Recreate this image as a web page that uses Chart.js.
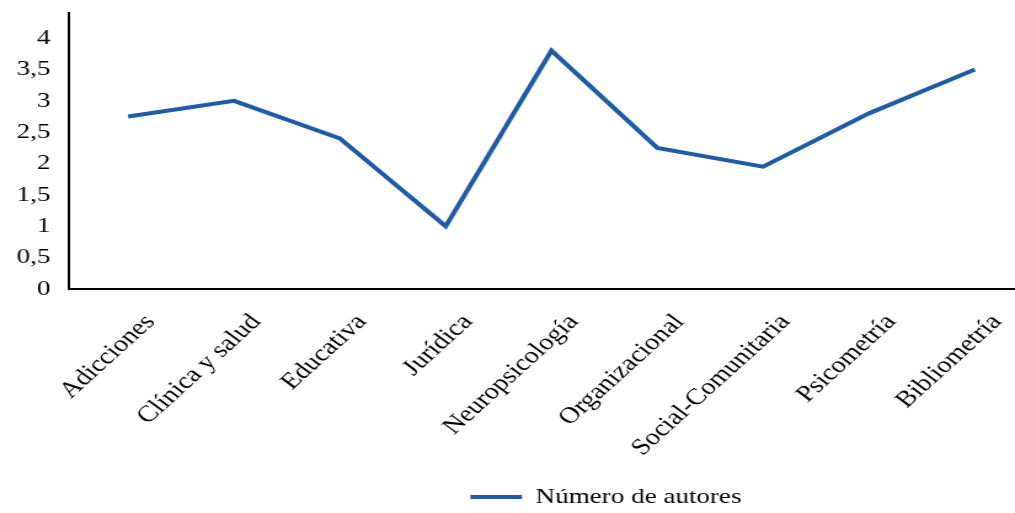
<!DOCTYPE html>
<html>
<head>
<meta charset="utf-8">
<script src="https://cdn.jsdelivr.net/npm/chart.js@4"></script>
<style>
  html, body { margin: 0; padding: 0; background: #fff; overflow: hidden; }
  /* la figura original esta estirada en horizontal */
  #grafico { transform: scaleX(1.2303); transform-origin: 0 0; display: block; }
</style>
</head>
<body>
<canvas id="grafico" width="825" height="513"></canvas>
<script>
const categorias = ['Adicciones', 'Clínica y salud', 'Educativa', 'Jurídica', 'Neuropsicología',
                    'Organizacional', 'Social-Comunitaria', 'Psicometría', 'Bibliometría'];
const autores = [2.75, 3, 2.4, 1, 3.8, 2.25, 1.95, 2.8, 3.5];
const ejeY = [0, 0.5, 1, 1.5, 2, 2.5, 3, 3.5, 4];

const fuente = { family: "'Liberation Serif', 'Times New Roman', serif", size: 22 };

// puntos: posicion de la categoria + valor
const puntos = autores.map((v, i) => ({ x: i, y: v }));

// mueve la leyenda como en la figura
const moverLeyenda = {
    id: 'moverLeyenda',
    afterLayout(chart) {
        const l = chart.legend;
        l.left += 80;
        l.right += 80;
        l.top += 5;
        l.bottom += 5;
    }
};

const config = {
    type: 'line',
    data: {
        datasets: [{
            label: 'Número de autores',
            data: puntos,
            borderColor: '#1F5BA6',
            backgroundColor: '#1F5BA6',
            borderWidth: 4,
            pointRadius: 0,
            tension: 0,
            fill: false
        }]
    },
    options: {
        responsive: false,
        animation: false,
        layout: { padding: { left: 0, right: 0, top: 13, bottom: 0 } },
        scales: {
            x: {
                type: 'linear',
                min: -0.56,
                max: 8.38,
                grid: { display: false, drawTicks: false },
                border: { display: true, color: '#000', width: 2 },
                afterBuildTicks(scale) {
                    scale.ticks = categorias.map((c, i) => ({ value: i }));
                },
                ticks: {
                    color: '#000',
                    font: { family: fuente.family, size: 23 },
                    maxRotation: 48,
                    minRotation: 48,
                    autoSkip: false,
                    padding: 20,
                    labelOffset: 18,
                    callback: v => categorias[v]
                },
                afterFit(scale) {
                    scale.height = 182;
                    scale.paddingLeft = 0;
                    scale.paddingRight = 0;
                }
            },
            y: {
                min: 0,
                max: 4.4,
                grid: { display: false, drawTicks: false },
                border: { display: true, color: '#000', width: 2 },
                afterBuildTicks(scale) {
                    scale.ticks = ejeY.map(v => ({ value: v }));
                },
                ticks: {
                    color: '#000',
                    font: fuente,
                    padding: 15,
                    callback: v => String(v).replace('.', ',')
                },
                afterFit(scale) {
                    scale.width = 56;
                    scale.paddingTop = 0;
                    scale.paddingBottom = 0;
                }
            }
        },
        plugins: {
            tooltip: { enabled: false },
            legend: {
                position: 'bottom',
                labels: {
                    color: '#000',
                    font: fuente,
                    usePointStyle: true,
                    pointStyle: 'line',
                    pointStyleWidth: 42,
                    padding: 10
                }
            }
        }
    },
    plugins: [moverLeyenda]
};

new Chart(document.getElementById('grafico').getContext('2d'), config);
</script>
</body>
</html>
